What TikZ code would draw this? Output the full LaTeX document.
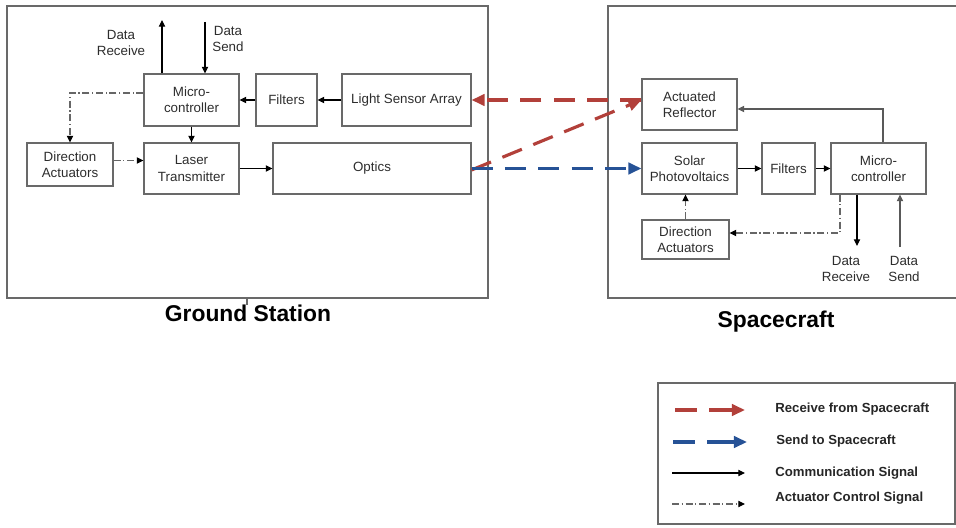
\documentclass[tikz,border=0pt]{standalone}
\usepackage{fontspec}
\setmainfont{Liberation Sans}
\usetikzlibrary{arrows.meta}
\definecolor{rxred}{RGB}{178,64,58}
\definecolor{txblue}{RGB}{38,82,150}
\definecolor{boxgray}{RGB}{105,105,105}
\definecolor{txtgray}{RGB}{45,45,45}
\tikzset{
  sz/.style 2 args={minimum width=#1*0.02cm,minimum height=#2*0.02cm},
  blk/.style={draw=boxgray,line width=0.6pt,inner sep=0pt,align=center,text=txtgray,font=\fontsize{7.6}{9.2}\selectfont},
  lbl/.style={align=center,text=txtgray,font=\fontsize{7.6}{9.2}\selectfont},
  key/.style={anchor=west,inner sep=0pt,text=black!85,font=\fontsize{7.5}{9}\selectfont\bfseries},
  title/.style={text=black,font=\fontsize{13}{15}\selectfont\bfseries},
  sig/.style={line width=0.6pt,-{Triangle[length=3.8pt,width=3.6pt]}},
  ctrl/.style={line width=0.6pt,draw=black!60,dash pattern=on 4pt off 1.5pt on 0.7pt off 1.5pt,-{Triangle[length=3.8pt,width=3.6pt,color=black]}},
  link/.style={line width=1.8pt,dash pattern=on 12pt off 7pt,-{Triangle[length=7.5pt,width=6.5pt]}},
  keylink/.style={link,dash pattern=on 12.5pt off 7pt on 40pt},
}
\begin{document}
\begin{tikzpicture}[x=0.02cm,y=-0.02cm]
  \useasboundingbox (0,0) rectangle (956,527);
  \draw[boxgray,line width=0.6pt] (7,6) rectangle (488,298);
  \draw[boxgray,line width=0.6pt] (247,298) -- (247,305);
  \draw[boxgray,line width=0.6pt] (960,6) -| (608,298) -- (960,298);
  \node[title] (gst) at (248,313) {Ground Station};
  \node[title] (sct) at (776,322) {Spacecraft};
  % ground station
  \node[blk,sz={95}{52}] (gmc) at (191.5,100) {Micro-\\controller};
  \node[blk,sz={61}{52}] (gfil) at (286.5,100) {Filters};
  \node[blk,sz={129}{52}] (glsa) at (406.5,100) {Light Sensor Array};
  \node[blk,sz={86}{43}] (gda) at (70,164.5) {Direction\\Actuators};
  \node[blk,sz={95}{51}] (glt) at (191.5,168.5) {Laser\\Transmitter};
  \node[blk,sz={198}{51}] (gopt) at (372,168.5) {Optics};
  \coordinate (grx) at (162,20);
  \coordinate (gsx) at (205,22);
  \node[lbl] (grxl) at (121,43) {Data\\Receive};
  \node[lbl] (gsxl) at (228,39) {Data\\Send};
  \draw[sig] (gmc.north -| grx) -- (grx);
  \draw[sig] (gsx) -- (gsx |- gmc.north);
  \draw[sig] (glsa) -- (gfil);
  \draw[sig] (gfil) -- (gmc);
  \draw[sig] (gmc) -- (glt);
  \draw[sig] (glt) -- (gopt);
  \draw[ctrl] ([yshift=0.14cm]gmc.west) -| (gda.north);
  \draw[ctrl] ([yshift=0.08cm]gda.east) -- ([yshift=0.08cm]gda.east -| glt.west);
  % spacecraft
  \node[blk,sz={95}{51}] (sar) at (689.5,104.5) {Actuated\\Reflector};
  \node[blk,sz={95}{51}] (ssp) at (689.5,168.5) {Solar\\Photovoltaics};
  \node[blk,sz={53}{51}] (sfil) at (788.5,168.5) {Filters};
  \node[blk,sz={95}{51}] (smc) at (878.5,168.5) {Micro-\\controller};
  \node[blk,sz={87}{39}] (sda) at (685.5,239.5) {Direction\\Actuators};
  \coordinate (sc1) at (840,233);
  \coordinate (srx) at (857,246);
  \coordinate (ssx) at (900,247);
  \node[lbl] (srxl) at (846,269) {Data\\Receive};
  \node[lbl] (ssxl) at (904,269) {Data\\Send};
  \draw[sig] (ssp) -- (sfil);
  \draw[sig] (sfil) -- (smc);
  \draw[sig,draw=black!65] ([xshift=0.09cm]smc.north) |- ([yshift=-0.09cm]sar.east);
  \draw[sig] (srx |- smc.south) -- (srx);
  \draw[sig,draw=black!65] (ssx) -- (ssx |- smc.south);
  \draw[ctrl] (sc1 |- smc.south) -- (sc1) -- (sc1 -| sda.east);
  \draw[ctrl] (sda.north) -- (sda.north |- ssp.south);
  % links
  \draw[link,rxred] (sar.west |- glsa.east) -- (glsa.east);
  \draw[link,rxred] ([yshift=-0.03cm]gopt.east) -- (sar.west |- glsa.east);
  \draw[link,txblue] (gopt.east) -- (ssp.west);
  % legend
  \node[draw=boxgray,line width=0.6pt,sz={297}{141}] (leg) at (806.5,453.5) {};
  \coordinate (l1a) at (675,410); \coordinate (l1b) at (745,410);
  \coordinate (l2a) at (673,442); \coordinate (l2b) at (747,442);
  \coordinate (l3a) at (672,473); \coordinate (l3b) at (745,473);
  \coordinate (l4a) at (672,504); \coordinate (l4b) at (745,504);
  \draw[keylink,rxred] (l1a) -- (l1b);
  \draw[keylink,txblue] (l2a) -- (l2b);
  \draw[sig] (l3a) -- (l3b);
  \draw[ctrl] (l4a) -- (l4b);
  \node[key] (k1) at (775,409) {Receive from Spacecraft};
  \node[key] (k2) at (776,441) {Send to Spacecraft};
  \node[key] (k3) at (775,473) {Communication Signal};
  \node[key] (k4) at (775,498) {Actuator Control Signal};
\end{tikzpicture}
\end{document}
